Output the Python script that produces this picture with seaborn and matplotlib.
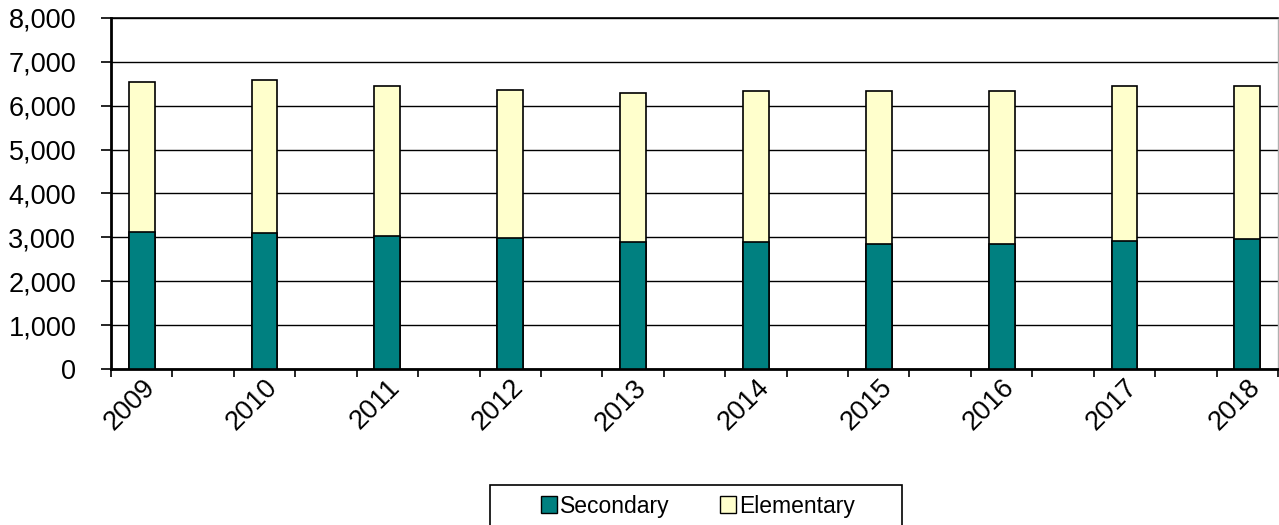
import matplotlib
matplotlib.use("Agg")
import matplotlib.pyplot as plt
from matplotlib.patches import Patch, Rectangle
from matplotlib.ticker import FuncFormatter, MultipleLocator, FixedLocator
import seaborn as sns
import pandas as pd
import numpy as np

years = ["2009", "2010", "2011", "2012", "2013", "2014", "2015", "2016", "2017", "2018"]
secondary = [3130, 3090, 3030, 2993, 2886, 2886, 2860, 2860, 2925, 2955]
elementary = [3415, 3487, 3410, 3371, 3409, 3448, 3474, 3474, 3515, 3485]

sns.set_theme(style="white")
plt.rcParams["font.family"] = ["Liberation Sans", "DejaVu Sans"]
plt.rcParams["text.color"] = "black"
plt.rcParams["xtick.color"] = "black"
plt.rcParams["ytick.color"] = "black"

FS = 19.5
LFS = 16.5

pos = np.arange(len(years)) * 2  # each year followed by an empty category
total = [s + e for s, e in zip(secondary, elementary)]
df = pd.DataFrame({"pos": pos, "total": total, "secondary": secondary})

W, H = 1279, 525
fig = plt.figure(figsize=(W / 100, H / 100), dpi=100)
ax = fig.add_axes([111/W, 1 - 369/H, (1278 - 111)/W, (369 - 18)/H])

sns.barplot(data=df, x="pos", y="total", native_scale=True, width=0.21,
            color="#FFFFCC", saturation=1, edgecolor="black", linewidth=1.2, ax=ax, zorder=3)
sns.barplot(data=df, x="pos", y="secondary", native_scale=True, width=0.21,
            color="#008080", saturation=1, edgecolor="black", linewidth=1.2, ax=ax, zorder=4)

ax.set_xlim(-0.5, 18.5)
ax.set_ylim(0, 8000)
ax.yaxis.set_major_locator(MultipleLocator(1000))
ax.yaxis.set_major_formatter(FuncFormatter(lambda v, p: f"{int(v):,}"))
ax.grid(axis="y", color="black", linewidth=1, zorder=0)
ax.set_axisbelow(True)

ax.xaxis.set_major_locator(FixedLocator(np.arange(-0.5, 19, 1)))
ax.xaxis.set_major_formatter(FuncFormatter(lambda v, p: ""))
ax.xaxis.set_minor_locator(FixedLocator(pos))
ax.set_xticklabels(years, minor=True)
ax.tick_params(axis="x", which="major", direction="out", length=6, width=1.2, color="black", bottom=True)
ax.tick_params(axis="x", which="minor", length=0, labelsize=FS, pad=4, labelcolor="black")
ax.tick_params(axis="y", direction="out", length=7, width=1.2, color="black", left=True,
               labelsize=FS, pad=18, labelcolor="black")
for lab in ax.get_xticklabels(minor=True):
    lab.set_rotation(45)
    lab.set_ha("right")
    lab.set_va("top")
    lab.set_rotation_mode("anchor")

ax.set_xlabel("")
ax.set_ylabel("")
for side in ["left", "bottom"]:
    ax.spines[side].set_color("black")
    ax.spines[side].set_linewidth(2)
ax.spines["top"].set_color("black")
ax.spines["top"].set_linewidth(1.2)
ax.spines["right"].set_color("#b0b0b0")
ax.spines["right"].set_linewidth(1)

handles = [Patch(facecolor="#008080", edgecolor="black", label="Secondary"),
           Patch(facecolor="#FFFFCC", edgecolor="black", label="Elementary")]
leg = fig.legend(handles=handles, loc="center", bbox_to_anchor=(698/W, 1 - 506/H),
                 ncol=2, fontsize=LFS, frameon=False,
                 handlelength=0.7, handleheight=0.7, handletextpad=0.15, columnspacing=2.2,
                 borderpad=0, borderaxespad=0)
for t in leg.get_texts():
    t.set_color("black")
fig.patches.append(Rectangle((490/W, 1 - 535/H), 412/W, 50/H, transform=fig.transFigure,
                             fill=False, edgecolor="black", linewidth=1.2))

fig.savefig("out.png", dpi=100)
